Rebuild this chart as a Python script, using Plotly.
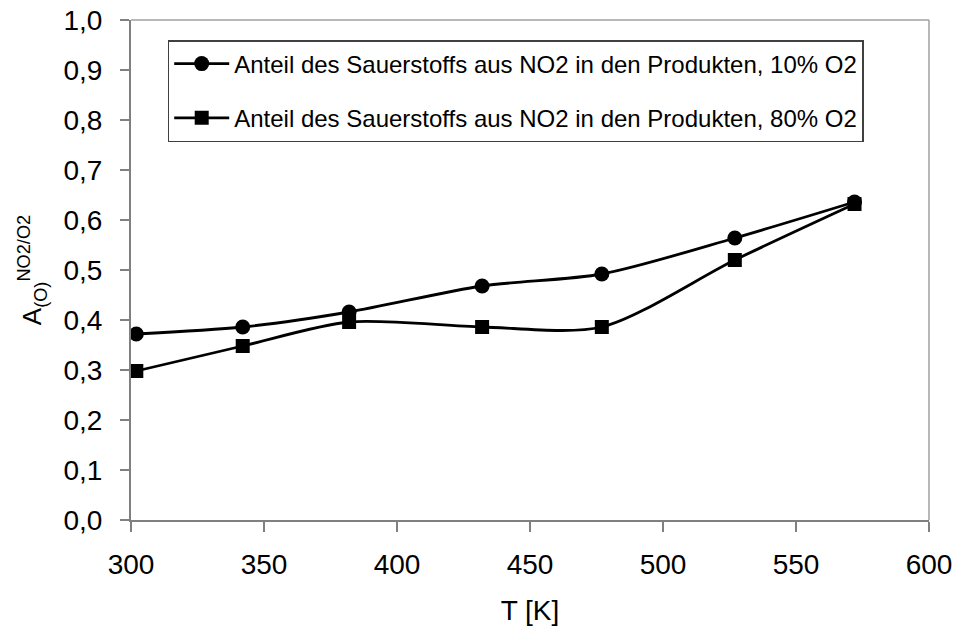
import plotly.graph_objects as go

# Temperatures [K] and oxygen fractions from NO2 in the products
temperature = [302, 342, 382, 432, 477, 527, 572]
share_10pct_o2 = [0.372, 0.386, 0.416, 0.468, 0.492, 0.564, 0.636]
share_80pct_o2 = [0.298, 0.348, 0.396, 0.386, 0.386, 0.520, 0.632]

label_10 = "Anteil des Sauerstoffs aus NO2 in den Produkten, 10% O2"
label_80 = "Anteil des Sauerstoffs aus NO2 in den Produkten, 80% O2"

x_ticks = [300, 350, 400, 450, 500, 550, 600]
y_ticks = [i / 10 for i in range(11)]
y_tick_text = [f"{v:.1f}".replace(".", ",") for v in y_ticks]

font_family = "Liberation Sans, Arial, sans-serif"

fig = go.Figure()
fig.add_trace(go.Scatter(
    x=temperature, y=share_10pct_o2, name=label_10, legendgroup="a",
    mode="lines+markers",
    line=dict(color="black", width=2.8, shape="spline", smoothing=0.8),
    marker=dict(symbol="circle", size=15, color="black"),
))
fig.add_trace(go.Scatter(
    x=temperature, y=share_80pct_o2, name=label_80, legendgroup="b",
    mode="lines+markers",
    line=dict(color="black", width=2.8, shape="spline", smoothing=0.8),
    marker=dict(symbol="square", size=14, color="black"),
))

# light frame on the top and right sides of the plot area
fig.add_shape(type="line", xref="paper", yref="paper", x0=0, x1=1, y0=1, y1=1,
              line=dict(color="#a0a0a0", width=1.5))
fig.add_shape(type="line", xref="paper", yref="paper", x0=1, x1=1, y0=0, y1=1,
              line=dict(color="#a0a0a0", width=1.5))

fig.update_layout(
    width=955, height=627,
    margin=dict(l=131, r=26, t=20, b=107),
    paper_bgcolor="white", plot_bgcolor="white",
    font=dict(family=font_family, color="black", size=27),
    showlegend=True,
    legend=dict(
        x=0.046, y=0.96, xanchor="left", yanchor="top",
        bgcolor="white", bordercolor="#404040", borderwidth=1.5,
        font=dict(size=24, family=font_family),
        tracegroupgap=20, itemwidth=55,
    ),
    xaxis=dict(
        range=[300, 600], tickvals=x_ticks, automargin=False,
        showgrid=False, zeroline=False, showline=True, linecolor="#808080", linewidth=2,
        ticks="outside", ticklen=10, tickcolor="#808080", tickwidth=1.5,
        tickfont=dict(size=28), ticklabelstandoff=8,
        title=dict(text="T [K]", font=dict(size=28), standoff=22),
    ),
    yaxis=dict(
        range=[0, 1.0], tickvals=y_ticks, ticktext=y_tick_text, automargin=False,
        showgrid=False, zeroline=False, showline=True, linecolor="#808080", linewidth=2,
        ticks="outside", ticklen=9, tickcolor="#808080", tickwidth=1.5,
        tickfont=dict(size=28), ticklabelstandoff=12,
        title=dict(text="A<sub>(O)</sub><sup>NO2/O2</sup>", font=dict(size=26), standoff=14),
    ),
)

fig.write_html("out.html")
